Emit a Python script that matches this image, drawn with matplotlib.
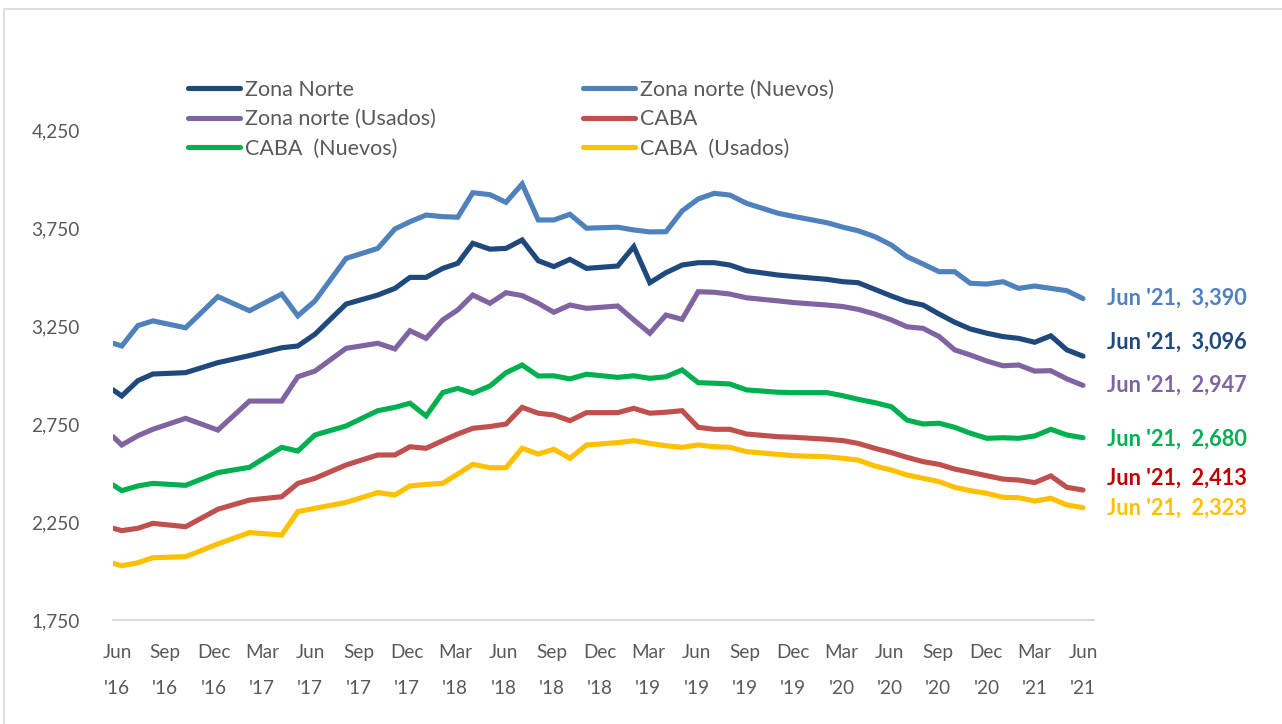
import matplotlib.pyplot as plt
import pandas as pd
from matplotlib.patches import Rectangle

# observation dates (irregular early on, monthly later)
fechas = ['2016-05-24', '2016-06-10', '2016-07-10', '2016-08-08', '2016-10-09',
          '2016-12-09', '2017-02-08', '2017-04-08', '2017-05-08', '2017-06-10',
          '2017-08-08', '2017-10-07', '2017-11-09', '2017-12-07', '2018-01-07',
          '2018-02-08', '2018-03-06', '2018-04-04', '2018-05-06', '2018-06-06',
          '2018-07-06', '2018-08-06', '2018-09-05', '2018-10-05', '2018-11-06',
          '2019-01-04', '2019-02-04', '2019-03-04', '2019-04-04', '2019-05-04',
          '2019-06-04', '2019-07-04', '2019-08-03', '2019-09-04', '2019-11-03',
          '2019-12-04', '2020-02-04', '2020-03-04', '2020-04-02', '2020-05-03',
          '2020-06-04', '2020-07-03', '2020-08-03', '2020-09-03', '2020-10-02',
          '2020-11-01', '2020-12-02', '2021-01-02', '2021-02-01', '2021-03-01',
          '2021-04-01', '2021-05-01', '2021-06-01']

zona_norte = [2924, 2893, 2971, 3005, 3012, 3063, 3099, 3139, 3148, 3208,
              3362, 3408, 3442, 3498, 3498, 3544, 3570, 3672, 3642, 3646,
              3689, 3583, 3553, 3590, 3544, 3556, 3655, 3471, 3522, 3561,
              3573, 3573, 3561, 3532, 3510, 3502, 3488, 3476, 3471, 3437,
              3403, 3374, 3357, 3311, 3269, 3235, 3213, 3196, 3187, 3167,
              3200, 3128, 3096]
zona_norte_nuevos = [3162, 3148, 3252, 3276, 3241, 3400, 3328, 3413, 3302, 3378,
                     3595, 3646, 3745, 3782, 3816, 3808, 3805, 3930, 3920, 3881,
                     3975, 3791, 3791, 3820, 3749, 3754, 3740, 3730, 3731, 3837,
                     3898, 3927, 3918, 3876, 3825, 3808, 3777, 3754, 3736, 3706,
                     3663, 3604, 3566, 3527, 3527, 3468, 3464, 3476, 3442, 3454,
                     3442, 3430, 3390]
zona_norte_usados = [2685, 2643, 2690, 2723, 2779, 2719, 2867, 2867, 2991, 3020,
                     3136, 3162, 3133, 3226, 3187, 3281, 3332, 3408, 3366, 3420,
                     3405, 3366, 3320, 3357, 3340, 3352, 3281, 3213, 3306, 3284,
                     3425, 3422, 3413, 3394, 3378, 3369, 3357, 3349, 3335, 3311,
                     3281, 3246, 3238, 3196, 3128, 3102, 3071, 3047, 3051, 3020,
                     3022, 2980, 2947]
caba = [2218, 2206, 2218, 2243, 2226, 2315, 2362, 2379, 2447, 2473,
        2541, 2592, 2592, 2634, 2626, 2665, 2699, 2728, 2737, 2750,
        2835, 2805, 2796, 2767, 2808, 2808, 2830, 2805, 2810, 2818,
        2733, 2723, 2723, 2699, 2685, 2682, 2672, 2665, 2651, 2626,
        2604, 2580, 2558, 2544, 2520, 2504, 2486, 2469, 2464, 2451,
        2485, 2427, 2413]
caba_nuevos = [2439, 2410, 2434, 2447, 2437, 2502, 2529, 2631, 2612, 2694,
               2740, 2818, 2835, 2856, 2791, 2910, 2932, 2907, 2944, 3012,
               3051, 2995, 2996, 2980, 3004, 2988, 2996, 2983, 2991, 3026,
               2961, 2958, 2954, 2924, 2912, 2910, 2910, 2894, 2876, 2859,
               2838, 2770, 2750, 2754, 2733, 2703, 2677, 2680, 2677, 2689,
               2723, 2694, 2680]
caba_usados = [2039, 2027, 2042, 2068, 2073, 2138, 2196, 2184, 2303, 2320,
               2350, 2400, 2388, 2434, 2442, 2447, 2495, 2544, 2527, 2527,
               2626, 2597, 2621, 2575, 2643, 2655, 2665, 2651, 2639, 2631,
               2643, 2634, 2631, 2609, 2595, 2588, 2583, 2575, 2566, 2536,
               2515, 2490, 2473, 2456, 2427, 2410, 2396, 2376, 2374, 2357,
               2371, 2337, 2323]

tick_labels = ["Jun\n'16", "Sep\n'16", "Dec\n'16", "Mar\n'17", "Jun\n'17",
               "Sep\n'17", "Dec\n'17", "Mar\n'18", "Jun\n'18", "Sep\n'18",
               "Dec\n'18", "Mar\n'19", "Jun\n'19", "Sep\n'19", "Dec\n'19",
               "Mar\n'20", "Jun\n'20", "Sep\n'20", "Dec\n'20", "Mar\n'21",
               "Jun\n'21"]
y_ticks = [1750, 2250, 2750, 3250, 3750, 4250]

# name, values, line colour, end label colour, end label offset (px)
series = [
    ('Zona Norte', zona_norte, '#1F497D', '#1F497D', 14),
    ('Zona norte (Nuevos)', zona_norte_nuevos, '#4F81BD', '#4F81BD', 0),
    ('Zona norte (Usados)', zona_norte_usados, '#8064A2', '#8064A2', 0),
    ('CABA', caba, '#C0504D', '#C00000', 12),
    ('CABA  (Nuevos)', caba_nuevos, '#00B050', '#00B050', -1),
    ('CABA  (Usados)', caba_usados, '#FFC000', '#FFC000', -1),
]


def month_index(dates):
    d = pd.to_datetime(dates)
    return ((d.year - 2016) * 12 + (d.month - 6) + (d.day - 1) / 30.4).to_numpy()


def main():
    plt.rcParams['font.family'] = ['Lato', 'DejaVu Sans']
    W, H = 1282, 724
    fig = plt.figure(figsize=(W / 100, H / 100), dpi=100)

    x0, x1, y_top, y_bot = 113, 1094, 81, 620
    ax = fig.add_axes([x0 / W, 1 - y_bot / H, (x1 - x0) / W, (y_bot - y_top) / H])

    x = month_index(fechas)
    handles = {}
    for name, vals, color, lcolor, dy in series:
        ln, = ax.plot(x, vals, color=color, lw=3.7, solid_joinstyle='miter',
                      solid_capstyle='round', label=name)
        handles[name] = ln
        ax.annotate(f"Jun '21,  {vals[-1]:,.0f}", xy=(x[-1], vals[-1]),
                    xytext=(24, dy), textcoords='offset pixels',
                    color=lcolor, fontsize=15.6, fontweight='bold',
                    va='center', ha='left', annotation_clip=False)

    ax.set_xlim((x0 - 117) / 16.1, (x1 - 117) / 16.1)
    ax.set_ylim(1750, 1750 + (y_bot - y_top) * 2500 / 490)
    ax.set_xticks(range(0, 61, 3))
    ax.set_xticklabels(tick_labels, linespacing=2.4)
    ax.set_yticks(y_ticks)
    ax.set_yticklabels([f'{v:,}' for v in y_ticks])
    ax.tick_params(axis='both', length=0, labelsize=13.7, labelcolor='#595959')
    ax.tick_params(axis='y', pad=24)
    ax.tick_params(axis='x', pad=17)

    for s in ('left', 'top', 'right'):
        ax.spines[s].set_visible(False)
    ax.spines['bottom'].set_color('#D9D9D9')
    ax.spines['bottom'].set_linewidth(1.5)

    col1 = ['Zona Norte', 'Zona norte (Usados)', 'CABA  (Nuevos)']
    col2 = ['Zona norte (Nuevos)', 'CABA', 'CABA  (Usados)']
    for names, lx in ((col1, 188), (col2, 583)):
        leg = fig.legend([handles[n] for n in names], names, loc='upper left',
                         bbox_to_anchor=(lx / W, 1 - 80 / H), frameon=False,
                         fontsize=15.5, handlelength=2.42, handletextpad=0.23,
                         labelspacing=0.43, borderpad=0, borderaxespad=0)
        for t in leg.get_texts():
            t.set_color('#595959')

    fig.patches.append(Rectangle((4 / W, -0.1), 1.2, 1.1 - 9 / H,
                                 transform=fig.transFigure, fill=False,
                                 ec='#D9D9D9', lw=1.2))

    fig.savefig('out.png', dpi=100)


if __name__ == '__main__':
    main()
